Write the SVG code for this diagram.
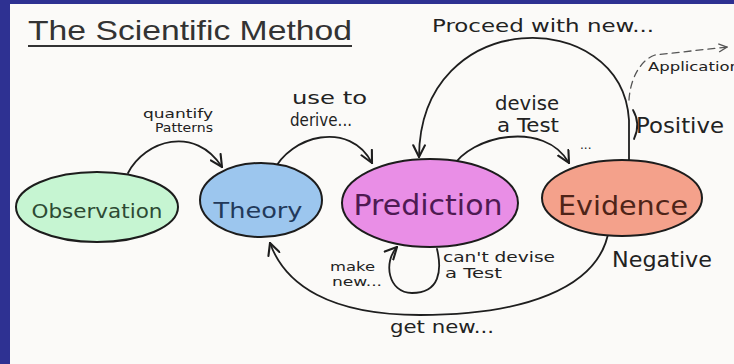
<svg xmlns="http://www.w3.org/2000/svg" width="734" height="364" viewBox="0 0 734 364">
<style>
.bg{fill:#fbfaf8}
.frame{fill:#2e3192}
.node{stroke:#1c1c1c;stroke-width:2}
.nt{font-family:"DejaVu Sans","Liberation Sans",sans-serif;text-anchor:middle}
.lbl{font-family:"DejaVu Sans","Liberation Sans",sans-serif;fill:#222}
.con{fill:none;stroke:#1e1e1e;stroke-width:1.8;stroke-linecap:round}
.dash{stroke-dasharray:7 5;stroke-width:1.3;stroke:#555}
</style>
<defs>
<marker id="ah" markerUnits="userSpaceOnUse" markerWidth="14" markerHeight="14" viewBox="0 0 12 12" refX="11" refY="6" orient="auto">
<path d="M1,1 L11,6 L1,11" fill="none" stroke="#1e1e1e" stroke-width="1.8" stroke-linecap="round"/>
</marker>
<marker id="ahs" markerUnits="userSpaceOnUse" markerWidth="10" markerHeight="10" viewBox="0 0 12 12" refX="11" refY="6" orient="auto">
<path d="M1,1 L11,6 L1,11" fill="none" stroke="#555" stroke-width="1.6"/>
</marker>
</defs>
<rect class="bg" x="0" y="0" width="734" height="364"/>
<rect class="frame" x="0" y="0" width="10" height="364"/>
<rect class="frame" x="0" y="0" width="734" height="4"/>

<g id="title">
<text x="28" y="40" font-family="Liberation Sans,Arial,sans-serif" font-size="28" fill="#333" textLength="324" lengthAdjust="spacingAndGlyphs">The Scientific Method</text>
<rect x="28" y="45" width="324" height="2" fill="#333"/>
</g>

<g id="connectors">
<path class="con" d="M128,173 C145,140 195,125 222,167" marker-end="url(#ah)"/>
<path class="con" d="M273,172 C290,135 350,120 372,163" marker-end="url(#ah)"/>
<path class="con" d="M452,168 C470,135 545,120 569,163" marker-end="url(#ah)"/>
<path class="con" d="M629,160 L629,120 C622,5 420,5 419,157" marker-end="url(#ah)"/>
<path class="con" d="M633,110 Q641,124 634,139" stroke-width="1.4"/>
<path class="con dash" d="M629,100 C630,80 640,60 655,55 L727,47" marker-end="url(#ahs)"/>
<path class="con" d="M609,229 C600,290 520,315 420,315 C330,315 285,285 270,243" marker-end="url(#ah)"/>
<path class="con" d="M437,249 C442,270 440,293 412,293 C388,293 383,262 397,247" marker-end="url(#ah)"/>
</g>

<g id="observation">
<ellipse class="node" cx="97" cy="207" rx="81" ry="35" fill="#c6f5d2"/>
<text class="nt" x="97" y="218" font-size="20" fill="#2d4a33" textLength="131" lengthAdjust="spacingAndGlyphs">Observation</text>
</g>
<g id="theory">
<ellipse class="node" cx="261" cy="200" rx="61" ry="37" fill="#9cc6ee"/>
<text class="nt" x="258" y="218" font-size="22" fill="#22395a" textLength="89" lengthAdjust="spacingAndGlyphs">Theory</text>
</g>
<g id="prediction">
<ellipse class="node" cx="430" cy="203" rx="88" ry="44" fill="#e98ee6"/>
<text class="nt" x="428" y="215" font-size="28" fill="#4e1a52" textLength="149" lengthAdjust="spacingAndGlyphs">Prediction</text>
</g>
<g id="evidence">
<ellipse class="node" cx="622" cy="198" rx="80" ry="38" fill="#f4a18b"/>
<text class="nt" x="623" y="215" font-size="27" fill="#4e2418" textLength="130" lengthAdjust="spacingAndGlyphs">Evidence</text>
</g>

<g id="labels">
<text class="lbl" x="143" y="118" font-size="12" textLength="70" lengthAdjust="spacingAndGlyphs">quantify</text>
<text class="lbl" x="155" y="132" font-size="12" textLength="58" lengthAdjust="spacingAndGlyphs">Patterns</text>
<text class="lbl" x="292" y="104" font-size="17" textLength="75" lengthAdjust="spacingAndGlyphs">use to</text>
<text class="lbl" x="290" y="126" font-size="17" textLength="62" lengthAdjust="spacingAndGlyphs">derive...</text>
<text class="lbl" x="495" y="110" font-size="19" textLength="64" lengthAdjust="spacingAndGlyphs">devise</text>
<text class="lbl" x="497" y="132" font-size="19" textLength="62" lengthAdjust="spacingAndGlyphs">a Test</text>
<text class="lbl" x="580" y="149" font-size="12">...</text>
<text class="lbl" x="432" y="32" font-size="17" textLength="222" lengthAdjust="spacingAndGlyphs">Proceed with new...</text>
<text class="lbl" x="636" y="133" font-size="21" textLength="88" lengthAdjust="spacingAndGlyphs">Positive</text>
<text class="lbl" x="648" y="71" font-size="12" fill="#444" textLength="92" lengthAdjust="spacingAndGlyphs">Application</text>
<text class="lbl" x="612" y="267" font-size="22" textLength="100" lengthAdjust="spacingAndGlyphs">Negative</text>
<text class="lbl" x="390" y="333" font-size="18" textLength="104" lengthAdjust="spacingAndGlyphs">get new...</text>
<text class="lbl" x="330" y="271" font-size="13" textLength="45" lengthAdjust="spacingAndGlyphs">make</text>
<text class="lbl" x="332" y="286" font-size="13" textLength="50" lengthAdjust="spacingAndGlyphs">new...</text>
<text class="lbl" x="443" y="262" font-size="14" textLength="112" lengthAdjust="spacingAndGlyphs">can't devise</text>
<text class="lbl" x="445" y="278" font-size="14" textLength="57" lengthAdjust="spacingAndGlyphs">a Test</text>
</g>
</svg>
